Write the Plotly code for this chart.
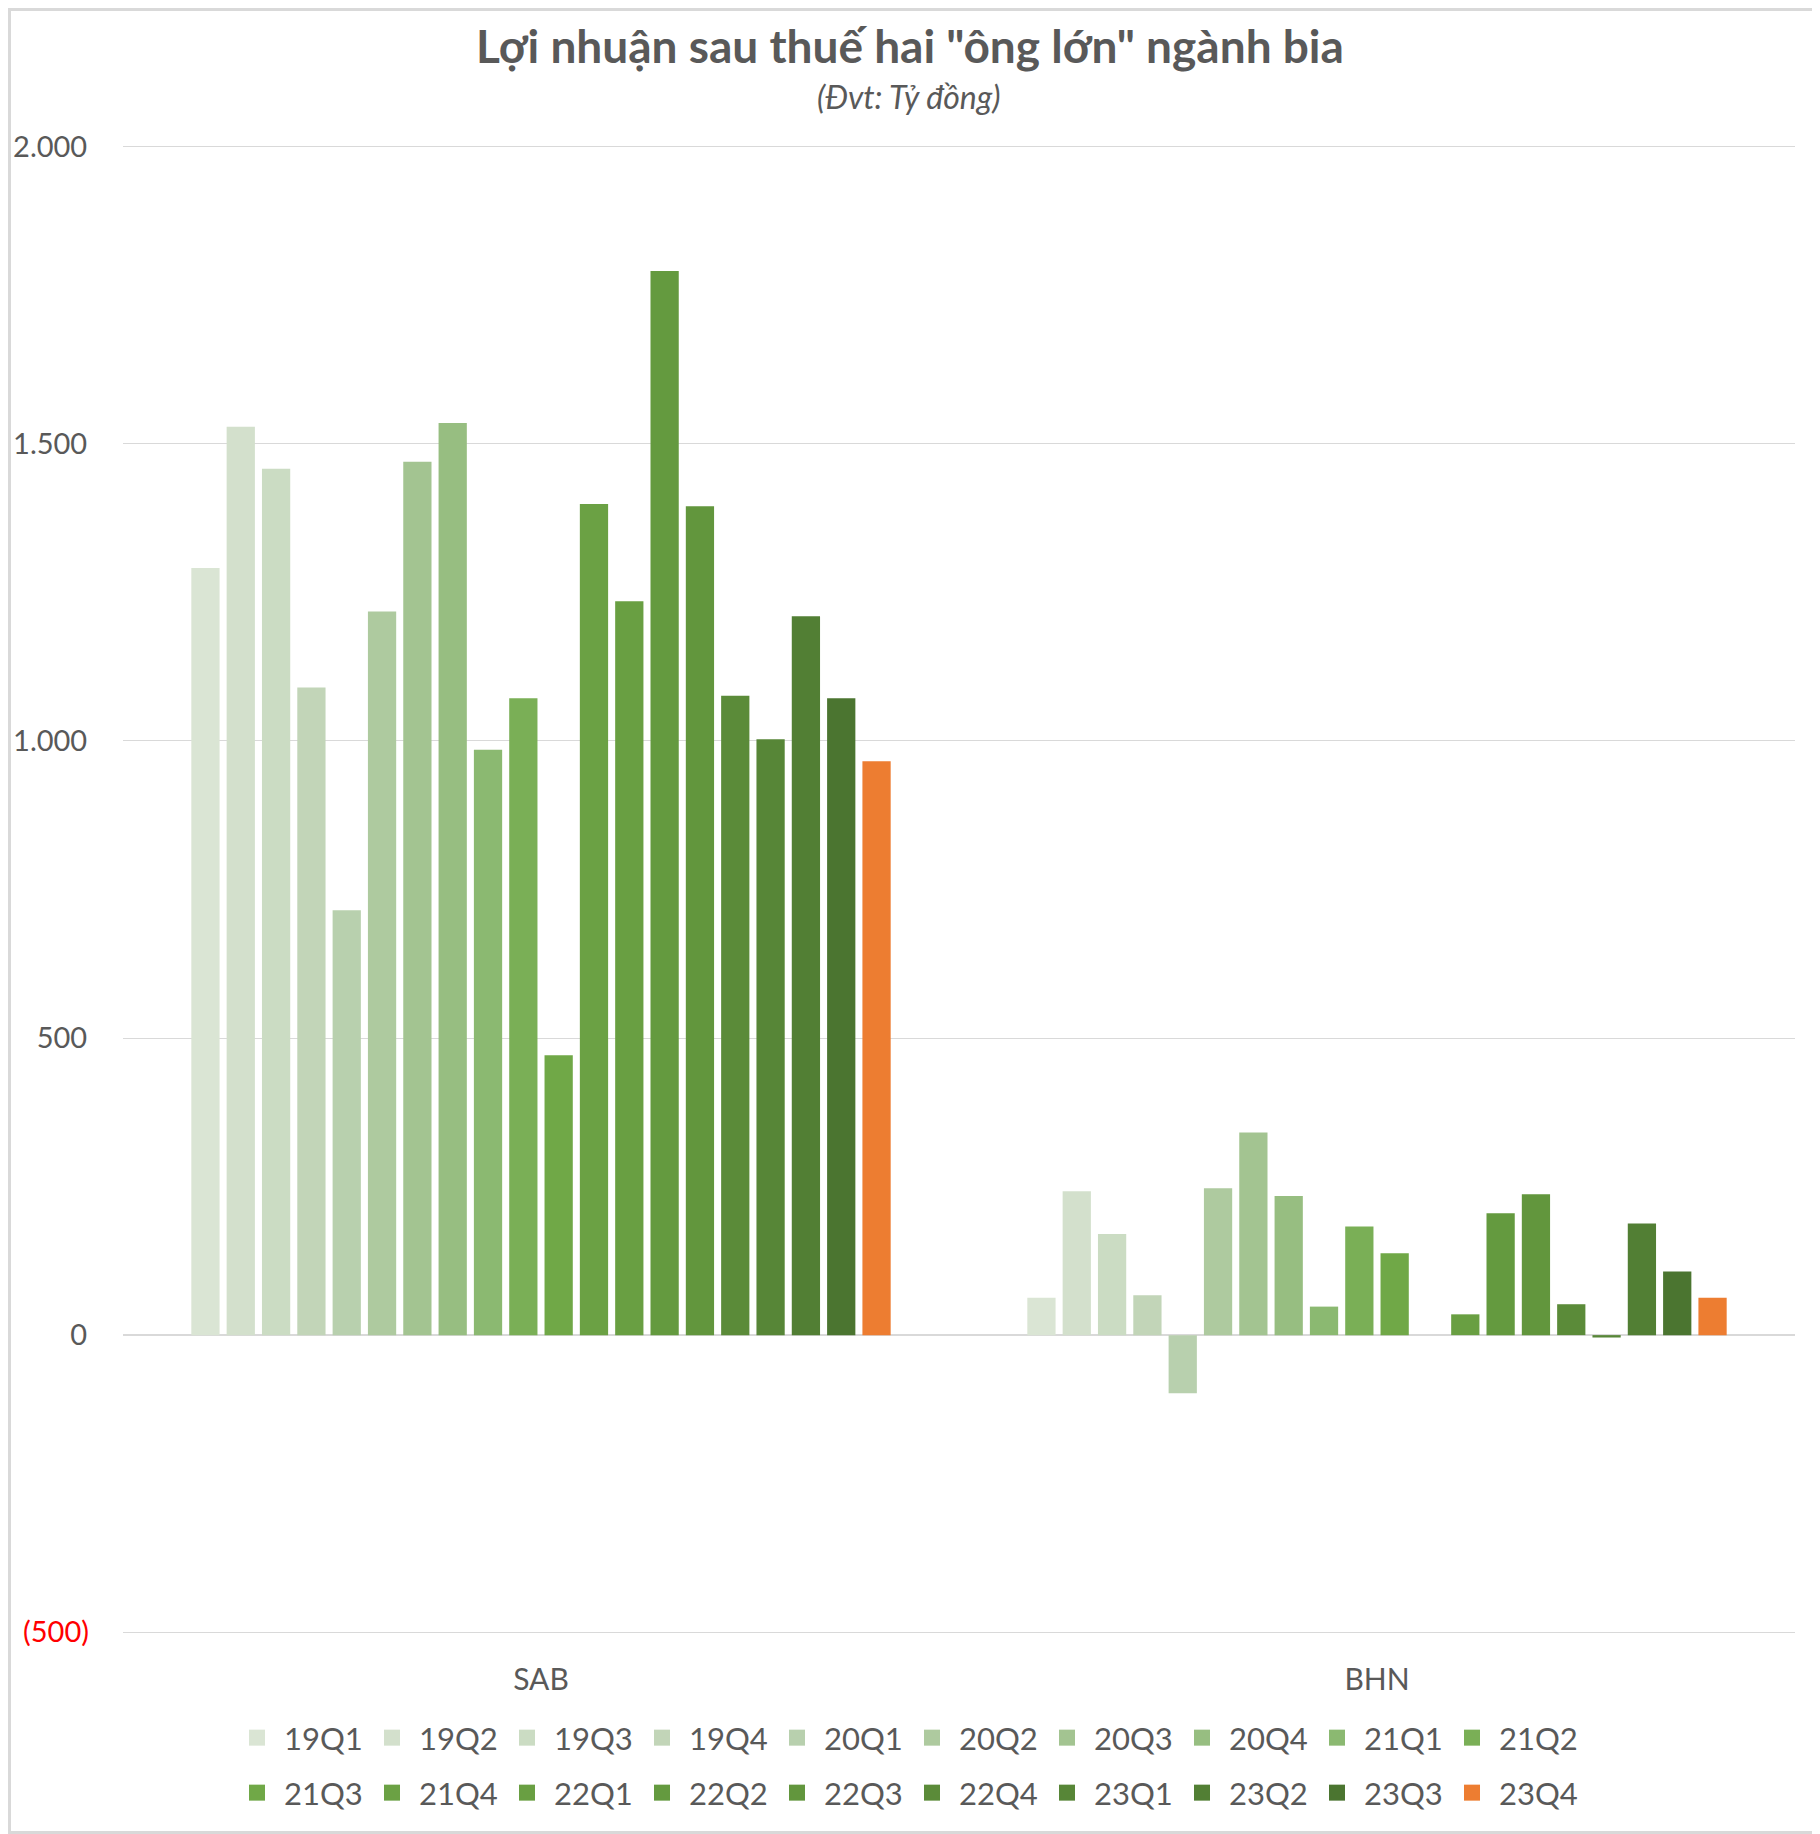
import plotly.graph_objects as go

# du lieu doc tu bieu do (ty dong)
companies = ["SAB", "BHN"]
quarters = ["19Q1", "19Q2", "19Q3", "19Q4", "20Q1", "20Q2", "20Q3", "20Q4", "21Q1", "21Q2",
            "21Q3", "21Q4", "22Q1", "22Q2", "22Q3", "22Q4", "23Q1", "23Q2", "23Q3", "23Q4"]
sab = [1291, 1529, 1458, 1090, 715, 1218, 1470, 1535, 985, 1072,
       471, 1399, 1235, 1791, 1395, 1076, 1003, 1210, 1072, 966]
bhn = [63, 242, 170, 67, -98, 247, 341, 234, 48, 183,
       138, None, 35, 205, 237, 52, -4, 188, 107, 63]
colors = ["#DAE5D4", "#D3E0CC", "#CBDCC3", "#C2D5B8", "#B8D0AE", "#AECA9F", "#A3C491", "#97BE81",
          "#8BB971", "#7AAF56", "#70A847", "#6BA144", "#699F42", "#649A3F", "#62963D", "#5B8B39",
          "#578637", "#527F34", "#4B7530", "#ED7D31"]
tick_vals = [-500, 0, 500, 1000, 1500, 2000]
tick_text = ["<span style='color:#FF0000'>(500)</span>", "0\u200a", "500\u200a",
             "1.000\u200a", "1.500\u200a", "2.000\u200a"]

# trang html co le 8px quanh hinh -> tinh theo toa do man hinh
OFF = 8
SW, SH = 1820, 1834
PL, PR, PT, PB = 123, 1795, 145, 1634   # vung ve tren man hinh
W, H = SW - OFF, SH - OFF
GREY = "#595959"


def px(xs):
    return (xs - PL) / (PR - PL)


def py(ys):
    return (PB - ys) / (PB - PT)


fig = go.Figure()

for i, q in enumerate(quarters):
    fig.add_trace(go.Bar(x=companies, y=[sab[i], bhn[i]], name=q,
                         marker=dict(color=colors[i], line=dict(width=0)),
                         showlegend=False))

# legend entries (2 hang, 10 muc moi hang)
for i, q in enumerate(quarters):
    fig.add_trace(go.Scatter(x=[None], y=[None], mode="markers", name=q,
                             marker=dict(symbol="square", size=20, color=colors[i]),
                             legend="legend" if i < 10 else "legend2"))

legend_common = dict(orientation="h", xanchor="center", yanchor="middle", x=px(905),
                     font=dict(family="Lato", size=31, color=GREY),
                     itemwidth=44, entrywidth=76, bgcolor="rgba(0,0,0,0)", traceorder="normal")

fig.update_layout(
    width=W, height=H,
    margin=dict(l=PL - OFF, r=SW - PR, t=PT - OFF, b=SH - PB),
    paper_bgcolor="white", plot_bgcolor="white",
    barmode="group", bargap=0.155, bargroupgap=0.2,
    title=dict(text="<b>Lợi nhuận sau thuế hai \"ông lớn\" ngành bia</b>",
               x=(910 - OFF) / W, xanchor="center", y=1 - (47 - OFF) / H, yanchor="middle",
               font=dict(family="Lato", size=46, color=GREY)),
    legend=dict(y=py(1738), **legend_common),
    legend2=dict(y=py(1793), **legend_common),
    xaxis=dict(showgrid=False, showline=False, ticks="", ticklabelstandoff=25, automargin=False,
               tickfont=dict(family="Lato", size=30, color=GREY)),
    # mo rong nhe de van ve luoi o 2.000 va (500)
    yaxis=dict(range=[-503, 2003], tickvals=tick_vals, ticktext=tick_text, automargin=False,
               showgrid=True, gridcolor="#D9D9D9", gridwidth=1.3,
               zeroline=True, zerolinecolor="#D9D9D9", zerolinewidth=2,
               showline=False, ticks="", ticklabelstandoff=33,
               tickfont=dict(family="Lato", size=29, color=GREY)),
)

fig.add_annotation(text="<i>(Đvt: Tỷ đồng)</i>", xref="paper", yref="paper",
                   x=px(908), y=py(96), xanchor="center", yanchor="middle", showarrow=False,
                   font=dict(family="Lato", size=32, color=GREY))

# vien xam quanh bieu do
fig.add_shape(type="rect", xref="paper", yref="paper",
              x0=px(OFF + 1.5), x1=px(SW - 1.5), y0=py(SH - 1.5), y1=py(OFF + 1.5),
              line=dict(color="#D9D9D9", width=3), layer="below")

fig.write_html("out.html")
